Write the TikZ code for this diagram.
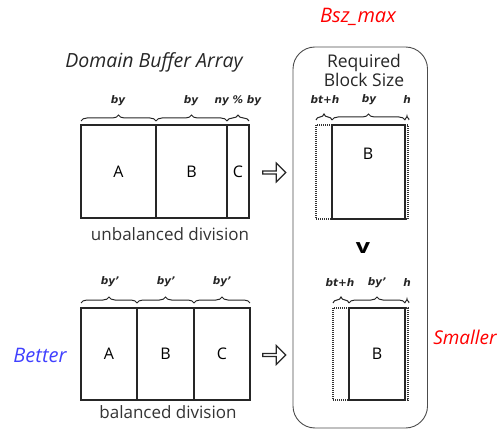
\documentclass[tikz,border=0pt]{standalone}
\usepackage{fontspec}
\setmainfont{Open Sans}
\newfontfamily\dimfont{DejaVu Sans}
\usetikzlibrary{decorations.pathreplacing,shapes.arrows}

\tikzset{
  cell/.style={draw=black!85, line width=1.5pt, inner sep=0pt, font=\fontsize{16}{18}\selectfont},
  ghost/.style={draw=black!80, line width=1.3pt, dash pattern=on 1pt off 1pt, inner sep=0pt},
  brc/.style={decorate, decoration={brace, amplitude=6pt}, draw=black!85, line width=1pt},
  dim/.style={font=\dimfont\fontsize{10.5}{12}\selectfont\bfseries\itshape, text=black!85},
  caption/.style={font=\fontsize{17}{20}\selectfont, text=black!80},
  hollow/.style={single arrow, draw=black!85, line width=1.2pt, minimum width=19pt,
    single arrow head extend=3pt, minimum height=23pt, inner sep=0pt},
}

\begin{document}
\begin{tikzpicture}[x=1pt,y=-1pt]
\useasboundingbox (0,0) rectangle (503,430);

% enclosing panel for the required block size
\draw[black!70, line width=0.9pt, rounded corners=22pt] (293,47) rectangle (427.5,428);
\node[font=\fontsize{20}{24}\selectfont\itshape, text=red] (bsz) at (358,17) {Bsz\_max};
\node[font=\fontsize{17.5}{19}\selectfont, text=black!85, align=center] (req) at (364,70) {Required\\Block Size};

% title
\node[font=\fontsize{19.5}{22}\selectfont\itshape, text=black!85] (title) at (154,62) {Domain Buffer Array};

% ---- unbalanced division ----
\node[cell, minimum width=75pt, minimum height=93pt] (uA) at (118.5,171.5) {A};
\node[cell, minimum width=71pt, minimum height=93pt] (uB) at (191.5,171.5) {B};
\node[cell, minimum width=22pt, minimum height=93pt] (uC) at (238,171.5) {C};
\draw[brc] (81,121) -- (156,121);
\draw[brc] (156,121) -- (227,121);
\draw[brc] (227,121) -- (249,121);
\node[dim] (l1) at (118,101) {by};
\node[dim] (l2) at (191,101) {by};
\node[dim] (l3) at (238,101) {ny \% by};
\node[caption] (cap1) at (170,234) {unbalanced division};
\node[hollow] (ar1) at (273.5,172.5) {};

% ---- balanced division ----
\node[cell, minimum width=56pt, minimum height=92pt] (bA) at (109,354) {A};
\node[cell, minimum width=57pt, minimum height=92pt] (bB) at (165.5,354) {B};
\node[cell, minimum width=56pt, minimum height=92pt] (bC) at (222,354) {C};
\draw[brc] (81,303) -- (137,303);
\draw[brc] (137,303) -- (194,303);
\draw[brc] (194,303) -- (250,303);
\node[dim] (m1) at (110,282) {by’};
\node[dim] (m2) at (166,282) {by’};
\node[dim] (m3) at (222,282) {by’};
\node[caption] (cap2) at (168,412) {balanced division};
\node[hollow] (ar2) at (273.5,355) {};
\node[font=\fontsize{20}{24}\selectfont\itshape, text=blue!75] (better) at (40,355) {Better};

% ---- required block, unbalanced ----
\node[ghost, minimum width=92pt, minimum height=94pt] (g1) at (362,172) {};
\node[cell, fill=white, minimum width=73pt, minimum height=94pt] (r1) at (368.5,172) {};
\node[font=\fontsize{16}{18}\selectfont] (r1lab) at (368,154) {B};
\draw[brc] (316,120) -- (332,120);
\draw[brc] (332,120) -- (405,120);
\draw[brc,decoration={brace,amplitude=4pt}] (405,120) -- (409,120);
\node[dim] (n1) at (325,100) {bt+h};
\node[dim] (n2) at (369,100) {by};
\node[dim] (n3) at (407,100) {h};

\node[font=\fontsize{20}{22}\selectfont\bfseries, xscale=1.25] (cmp) at (363,248) {v};

% ---- required block, balanced ----
\node[ghost, minimum width=75pt, minimum height=92pt] (g2) at (370.5,354) {};
\node[cell, fill=white, minimum width=56pt, minimum height=92pt] (r2) at (377,354) {B};
\draw[brc] (333,303) -- (349,303);
\draw[brc] (349,303) -- (405,303);
\draw[brc,decoration={brace,amplitude=4pt}] (405,303) -- (409,303);
\node[dim] (o1) at (340,283) {bt+h};
\node[dim] (o2) at (377,283) {by’};
\node[dim] (o3) at (407,283) {h};
\node[font=\fontsize{19}{22}\selectfont\itshape, text=red] (smaller) at (465,337) {Smaller};
\end{tikzpicture}
\end{document}
